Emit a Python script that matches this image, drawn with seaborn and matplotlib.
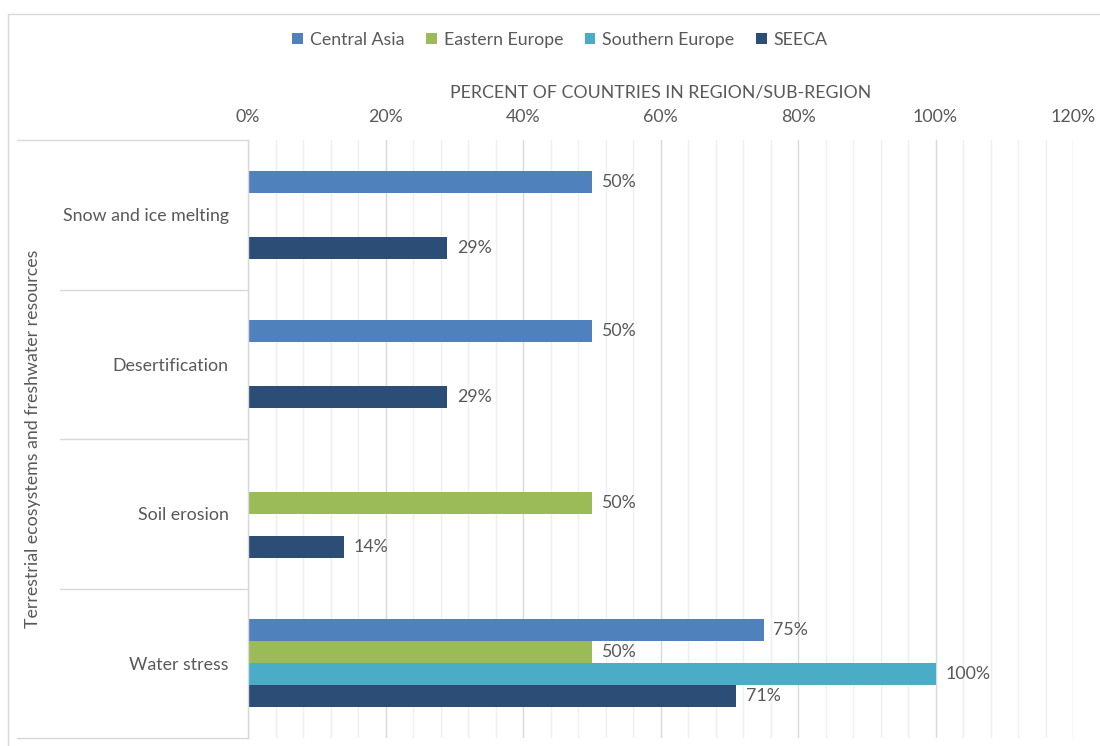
import matplotlib
matplotlib.use("Agg")
import matplotlib.pyplot as plt
import matplotlib.ticker as mticker
from matplotlib.lines import Line2D
from matplotlib.patches import Patch
import seaborn as sns
import pandas as pd

# Hazards (category axis, top to bottom) and share of countries per region
hazards = ["Snow and ice melting", "Desertification", "Soil erosion", "Water stress"]
regions = ["Central Asia", "Eastern Europe", "Southern Europe", "SEECA"]
central_asia = [50, 50, 0, 75]
eastern_europe = [0, 0, 50, 50]
southern_europe = [0, 0, 0, 100]
seeca = [29, 29, 14, 71]
colors = ["#4F81BD", "#9BBB59", "#4BACC6", "#2C4D75"]
x_ticks = [0, 20, 40, 60, 80, 100, 120]
group_label = "Terrestrial ecosystems and freshwater resources"
x_title = "PERCENT OF COUNTRIES IN REGION/SUB-REGION"

series = [central_asia, eastern_europe, southern_europe, seeca]
df = pd.DataFrame(
    [(h, r, v) for r, vals in zip(regions, series) for h, v in zip(hazards, vals)],
    columns=["hazard", "region", "pct"],
)

sns.set_theme(style="white")
plt.rcParams["font.family"] = ["Lato", "DejaVu Sans"]
text_col = "#595959"
grid_major = "#d9d9d9"
grid_minor = "#efefef"
fs = 12.8

fig = plt.figure(figsize=(11, 7.46), dpi=100)
W, H = 1100, 746
ax = fig.add_axes([248 / W, 1 - 738 / H, (1073 - 248) / W, (738 - 140) / H])

sns.barplot(
    data=df, y="hazard", x="pct", hue="region", orient="h",
    order=hazards, hue_order=regions, palette=colors, saturation=1,
    width=0.59, linewidth=0, legend=False, ax=ax,
)

ax.set_xlim(0, 120)
ax.set_ylim(3.5, -0.5)
ax.xaxis.tick_top()
ax.xaxis.set_label_position("top")
ax.set_xticks(x_ticks)
ax.xaxis.set_major_formatter(mticker.FuncFormatter(lambda v, p: f"{v:.0f}%"))
ax.xaxis.set_minor_locator(mticker.MultipleLocator(4))
ax.grid(axis="x", which="major", color=grid_major, lw=1)
ax.grid(axis="x", which="minor", color=grid_minor, lw=1)
ax.set_axisbelow(True)
ax.tick_params(axis="x", which="both", length=0, pad=11, labelsize=fs, labelcolor=text_col)
ax.tick_params(axis="y", length=0, pad=14, labelsize=fs, labelcolor=text_col)
ax.set_xlabel(x_title, fontsize=fs, color=text_col, labelpad=8)
ax.set_ylabel("")
for s in ["top", "right", "bottom"]:
    ax.spines[s].set_visible(False)
ax.spines["left"].set_color(grid_major)
ax.spines["left"].set_linewidth(1)

# value labels (skip empty bars)
for cont in ax.containers:
    labels = [f"{b.get_width():.0f}%" if b.get_width() > 0 else "" for b in cont]
    texts = ax.bar_label(cont, labels=labels, padding=7, fontsize=fs, color=text_col)

# category separators and group bracket lines
trans = ax.get_yaxis_transform()
ax_w = (1073 - 248)
for yb in [0.5, 1.5, 2.5]:
    ax.add_line(Line2D([-(248 - 60) / ax_w, 0], [yb, yb], transform=trans,
                       color=grid_major, lw=1, clip_on=False))
for yb in [-0.5, 3.5]:
    ax.add_line(Line2D([-(248 - 17) / ax_w, 0], [yb, yb], transform=trans,
                       color=grid_major, lw=1, clip_on=False))

fig.text(33 / W, 1 - 439 / H, group_label, rotation=90, ha="center", va="center",
         fontsize=fs, color=text_col)

# outer chart frame
fig.add_artist(Line2D([8 / W, 8 / W], [0, 1 - 14 / H], transform=fig.transFigure,
                      color=grid_major, lw=1))
fig.add_artist(Line2D([8 / W, 1], [1 - 14 / H, 1 - 14 / H], transform=fig.transFigure,
                      color=grid_major, lw=1))

handles = [Patch(facecolor=c, edgecolor="none", label=r) for c, r in zip(colors, regions)]
fig.legend(handles=handles, loc="center", bbox_to_anchor=(560 / W, 1 - 40 / H), ncol=4,
           frameon=False, fontsize=fs, labelcolor=text_col, handlelength=0.6,
           handleheight=0.6, handletextpad=0.4, columnspacing=1.2)

fig.savefig("out.png", dpi=100)
